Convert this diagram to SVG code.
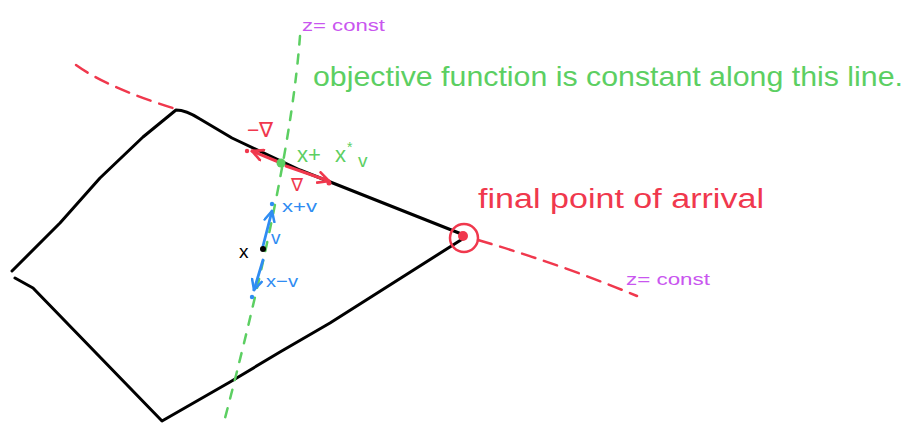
<svg xmlns="http://www.w3.org/2000/svg" width="909" height="423" viewBox="0 0 909 423">
<style>
.blk{fill:none;stroke:#000;stroke-width:3;stroke-linecap:round;stroke-linejoin:round}
.rdash{fill:none;stroke:#f0384d;stroke-width:2.5;stroke-dasharray:14 9;stroke-linecap:round}
.gdash{fill:none;stroke:#5ccf62;stroke-width:2.5;stroke-dasharray:9 10;stroke-linecap:round}
.rarr{fill:none;stroke:#f0384d;stroke-width:3;stroke-linecap:round;marker-end:url(#ra)}
.barr{fill:none;stroke:#2f8cf2;stroke-width:2.8;stroke-linecap:round;marker-end:url(#ba)}
.t{font-family:"Liberation Sans",Arial,sans-serif}
.red{fill:#f0384d}.grn{fill:#5ccf62}.blu{fill:#2f8cf2}.pur{fill:#c956ef}.k{fill:#000}
</style>
<defs>
<marker id="ra" viewBox="0 0 10 10" refX="9" refY="5" markerWidth="4.5" markerHeight="4.5" orient="auto" markerUnits="strokeWidth">
<path d="M1,1 L9,5 L1,9" fill="none" stroke="#f0384d" stroke-width="2" stroke-linecap="round"/>
</marker>
<marker id="ba" viewBox="0 0 10 10" refX="9" refY="5" markerWidth="4.5" markerHeight="4.5" orient="auto" markerUnits="strokeWidth">
<path d="M1,1 L9,5 L1,9" fill="none" stroke="#2f8cf2" stroke-width="2" stroke-linecap="round"/>
</marker>
</defs>
<rect width="909" height="423" fill="#fff"/>

<g id="feasible-region">
<path class="blk" d="M464,235 L300,170 L232,138 L200,119 Q186,110 176,110 L143,137 L100,178 L60,223 L12,271"/>
<path class="blk" d="M15,278 L33,288 L162,421 L230,382 L280,352 L330,323 L464,238"/>
</g>

<g id="connectors">
<path class="rdash" d="M76,65 Q108,88 176,109"/>
<path class="rdash" d="M478,240 Q560,264 637,296"/>
<path class="gdash" d="M300,36 Q290,170 224,422"/>
<path class="rarr" d="M281,163 L252,151"/>
<path class="rarr" d="M286,166 L329,181"/>
<path class="barr" d="M263,246 L272,211"/>
<path class="barr" d="M263,260 L254,290"/>
</g>

<g id="optimum">
<circle cx="464" cy="238" r="14" fill="none" stroke="#f0384d" stroke-width="2.5"/>
<circle cx="463" cy="236" r="5" class="red"/>
<text class="t red" x="478" y="208" font-size="27" textLength="286" lengthAdjust="spacingAndGlyphs">final point of arrival</text>
</g>

<g id="point-x">
<circle cx="263" cy="249" r="3" class="k"/>
<text class="t k" x="239" y="258" font-size="19">x</text>
<circle cx="272" cy="204" r="2.2" class="blu"/>
<text class="t blu" x="282" y="212" font-size="17" textLength="35" lengthAdjust="spacingAndGlyphs">x+v</text>
<text class="t blu" x="271" y="244" font-size="19">v</text>
<circle cx="252" cy="297" r="2.2" class="blu"/>
<text class="t blu" x="266" y="287" font-size="17" textLength="32" lengthAdjust="spacingAndGlyphs">x−v</text>
</g>

<g id="point-step">
<circle cx="281" cy="163" r="4.5" class="grn"/>
<text class="t grn" y="162" font-size="22"><tspan x="297">x+</tspan><tspan x="335">x</tspan><tspan x="347" y="152" font-size="14">*</tspan><tspan x="358" y="167" font-size="19">v</tspan></text>
<circle cx="247" cy="151" r="2.2" class="red"/>
<circle cx="329" cy="183" r="2.5" class="red"/>
<text class="t red" x="247" y="137" font-size="21">−∇</text>
<text class="t red" x="291" y="191" font-size="18">∇</text>
</g>

<g id="level-set-labels">
<text class="t pur" x="302" y="31" font-size="17" textLength="83" lengthAdjust="spacingAndGlyphs">z= const</text>
<text class="t grn" x="313" y="86" font-size="28" textLength="590" lengthAdjust="spacingAndGlyphs">objective function is constant along this line.</text>
<text class="t pur" x="626" y="285" font-size="17" textLength="84" lengthAdjust="spacingAndGlyphs">z= const</text>
</g>
</svg>
